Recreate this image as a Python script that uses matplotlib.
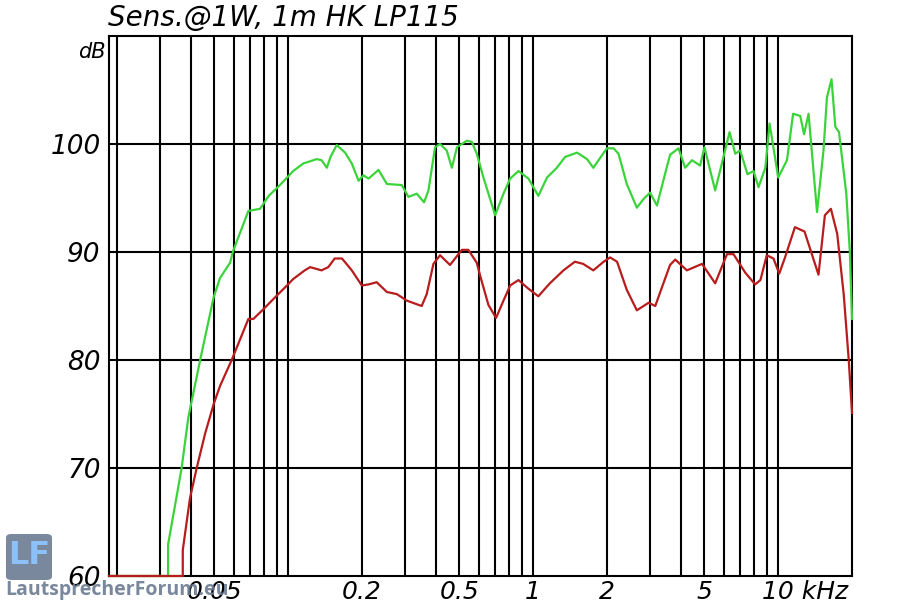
import numpy as np
import matplotlib
matplotlib.use("Agg")
import matplotlib.pyplot as plt
import matplotlib.transforms as mtransforms
from matplotlib.patches import FancyBboxPatch

# Frequenzgang (kHz, dB)
freq_gruen = [0.0186, 0.0324, 0.0324, 0.0368, 0.0392, 0.0438, 0.0497, 0.0528, 0.058, 0.0595,
              0.0689, 0.0769, 0.0834, 0.0927, 0.105, 0.1155, 0.131, 0.137, 0.144, 0.149,
              0.158, 0.171, 0.182, 0.194, 0.203, 0.213, 0.234, 0.253, 0.291, 0.31,
              0.335, 0.359, 0.374, 0.398, 0.417, 0.444, 0.466, 0.489, 0.536, 0.562,
              0.589, 0.627, 0.700, 0.757, 0.806, 0.871, 0.957, 1.05, 1.14, 1.25,
              1.35, 1.51, 1.66, 1.76, 2.0, 2.13, 2.23, 2.41, 2.65, 2.82,
              3.0, 3.2, 3.46, 3.62, 3.92, 4.17, 4.45, 4.8, 5.0, 5.53,
              5.89, 6.33, 6.68, 7.0, 7.49, 7.93, 8.31, 8.86, 9.22, 10.0,
              10.86, 11.5, 12.3, 12.75, 13.3, 14.4, 15.3, 15.8, 16.5, 17.1,
              17.7, 18.96, 19.6, 20.0]
db_gruen = [60, 60, 62.9, 70, 74.7, 80, 85.8, 87.6, 89.0, 90,
            93.8, 94.0, 95.2, 96.2, 97.5, 98.2, 98.6, 98.5, 97.8, 98.8,
            99.9, 99.2, 98.2, 96.6, 97.1, 96.8, 97.6, 96.3, 96.2, 95.1,
            95.4, 94.6, 95.7, 99.7, 100.0, 99.4, 97.8, 99.7, 100.3, 100.2,
            99.1, 96.9, 93.4, 95.4, 96.8, 97.5, 96.8, 95.2, 96.9, 97.8,
            98.8, 99.2, 98.6, 97.8, 99.6, 99.6, 99.1, 96.3, 94.1, 94.9,
            95.5, 94.3, 97.3, 99.0, 99.6, 97.8, 98.5, 98.0, 99.7, 95.7,
            98.2, 101.1, 99.1, 99.4, 97.2, 97.5, 96.0, 97.8, 101.9, 96.9,
            98.5, 102.8, 102.6, 100.9, 102.8, 93.7, 99.4, 104.3, 106.0, 101.6,
            101.1, 95.4, 90.0, 83.8]

freq_rot = [0.0186, 0.0372, 0.0372, 0.0398, 0.0424, 0.0459, 0.0497, 0.0528, 0.0589, 0.0689,
            0.0722, 0.0785, 0.0885, 0.0990, 0.105, 0.117, 0.123, 0.137, 0.146, 0.155,
            0.166, 0.182, 0.2, 0.213, 0.23, 0.253, 0.278, 0.305, 0.351, 0.368,
            0.392, 0.417, 0.458, 0.512, 0.544, 0.589, 0.608, 0.657, 0.706, 0.757,
            0.806, 0.871, 0.957, 1.05, 1.17, 1.33, 1.48, 1.6, 1.76, 1.94,
            2.06, 2.2, 2.41, 2.65, 2.96, 3.15, 3.40, 3.62, 3.8, 4.24,
            4.89, 5.2, 5.53, 6.18, 6.57, 7.33, 8.05, 8.46, 8.98, 9.56,
            10.1, 10.66, 11.7, 12.8, 14.6, 15.5, 16.4, 17.4, 18.5, 19.4,
            20.0]
db_rot = [60, 60, 62.4, 67.2, 70, 73.2, 75.9, 77.6, 80, 83.8,
          83.8, 84.6, 85.8, 86.9, 87.5, 88.3, 88.6, 88.3, 88.6, 89.4,
          89.4, 88.3, 86.9, 87.0, 87.2, 86.3, 86.1, 85.5, 85.0, 86.1,
          88.9, 89.7, 88.8, 90.2, 90.2, 89.0, 87.8, 85.1, 83.9, 85.5,
          86.9, 87.4, 86.6, 85.9, 87.1, 88.3, 89.1, 88.9, 88.3, 89.1,
          89.5, 89.1, 86.5, 84.6, 85.3, 85.0, 87.1, 88.8, 89.3, 88.3,
          88.9, 88.0, 87.1, 89.8, 89.8, 88.1, 87.0, 87.4, 89.7, 89.4,
          88.0, 89.5, 92.3, 91.9, 87.9, 93.4, 94.0, 91.7, 86.1, 80.0,
          75.1]

# Gitter und Beschriftung
gitter_x = [0.02, 0.03, 0.04, 0.05, 0.06, 0.07, 0.08, 0.09, 0.1,
            0.2, 0.3, 0.4, 0.5, 0.6, 0.7, 0.8, 0.9, 1,
            2, 3, 4, 5, 6, 7, 8, 9, 10]
xtick_werte = [0.05, 0.2, 0.5, 1, 2, 5, 10]
xtick_text = ["0.05", "0.2", "0.5", "1", "2", "5", "10 kHz"]
ytick_werte = [60, 70, 80, 90, 100]

fig = plt.figure(figsize=(9.12, 6.08), dpi=100)
ax = fig.add_axes([109 / 912, 1 - 576 / 608, (852 - 109) / 912, (576 - 36) / 608])

ax.set_xscale("log")
ax.set_xlim(0.0186, 20)
ax.set_ylim(60, 110)

for gx in gitter_x:
    ax.axvline(gx, color="black", lw=1.5, zorder=1)
for gy in [70, 80, 90, 100]:
    ax.axhline(gy, color="black", lw=1.5, zorder=1)

ax.plot(freq_gruen, db_gruen, color="#3ad43a", lw=1.6, zorder=3, clip_on=False)
ax.plot(freq_rot, db_rot, color="#b81c1c", lw=1.6, zorder=3, clip_on=False)

for s in ax.spines.values():
    s.set_linewidth(1.5)
    s.set_color("black")

ax.minorticks_off()
ax.set_xticks(xtick_werte)
ax.set_xticklabels(xtick_text)
ax.set_yticks(ytick_werte)
ax.set_yticklabels([str(v) for v in ytick_werte])
ax.tick_params(axis="y", length=0, pad=6, labelsize=19)
ax.tick_params(axis="x", length=0, pad=3, labelsize=18)
for lab in ax.get_xticklabels() + ax.get_yticklabels():
    lab.set_fontstyle("italic")

# "10 kHz" beginnt links vom 10er-Strich
letzte = ax.get_xticklabels()[-1]
letzte.set_horizontalalignment("left")
letzte.set_transform(letzte.get_transform() +
                     mtransforms.ScaledTranslation(-16 / 100, 0, fig.dpi_scale_trans))

fig.text(108 / 912, 1 - 18 / 608, "Sens.@1W, 1m HK LP115", fontsize=20,
         fontstyle="italic", ha="left", va="center")
fig.text(106 / 912, 1 - 52 / 608, "dB", fontsize=15, fontstyle="italic",
         ha="right", va="center")

# Wasserzeichen
logo = FancyBboxPatch((6 / 912, 1 - 580 / 608), 46 / 912, 46 / 608,
                      boxstyle="round,pad=0,rounding_size=0.006",
                      transform=fig.transFigure, facecolor="#6b7b92",
                      edgecolor="none", alpha=0.9, zorder=5)
fig.patches.append(logo)
fig.text(29 / 912, 1 - 556 / 608, "LF", fontsize=23, fontweight="bold",
         color="#8cc0f8", ha="center", va="center", zorder=6)
fig.text(5 / 912, 1 - 590 / 608, "LautsprecherForum.eu", fontsize=14,
         family=["Open Sans", "DejaVu Sans"], fontweight="bold",
         color="#6b7b92", alpha=0.9, ha="left", va="center", zorder=6)

fig.savefig("out.png", dpi=100)
